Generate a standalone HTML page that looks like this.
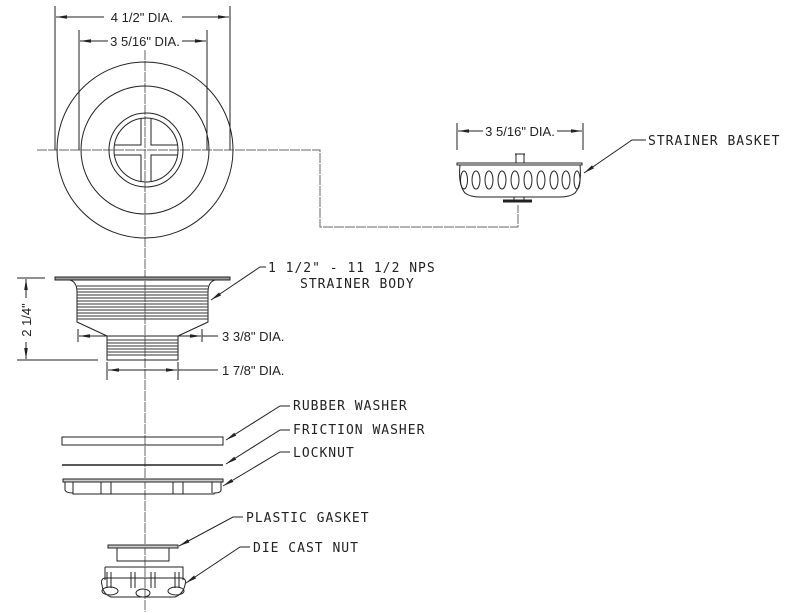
<!DOCTYPE html>
<html><head><style>
html,body{margin:0;padding:0;background:#fff}
svg{display:block}
.t{font-family:"Liberation Sans",sans-serif;font-size:13px;fill:#222}
.c{font-family:"DejaVu Sans Mono","Liberation Mono",monospace;font-size:13px;fill:#222;letter-spacing:1px}
</style></head><body>
<svg width="800" height="615" viewBox="0 0 800 615" xmlns="http://www.w3.org/2000/svg">
<defs>
<marker id="a" markerWidth="12" markerHeight="6" refX="11" refY="3" orient="auto" markerUnits="userSpaceOnUse"><path d="M0,1.2 L11,3 L0,4.8 z" fill="#222"/></marker>
</defs>
<g stroke="#222" stroke-width="1" fill="none">
<path d="M145,50 V612" stroke="#666" stroke-dasharray="10,1"/>
<path d="M37,150 H320 V227 H518 V205" stroke="#666" stroke-dasharray="10,1"/>
<circle cx="145" cy="150" r="88"/>
<circle cx="145" cy="150" r="64"/>
<circle cx="146" cy="150" r="37"/>
<circle cx="146" cy="150" r="32"/>
<path d="M141,119 V145 H115 M151,119 V145 H177 M141,181 V155 H115 M151,181 V155 H177"/>
<path d="M55,6 V150 M230,6 V150 M79,30 V150 M207,30 V150"/>
<path d="M142,17 H56" marker-end="url(#a)"/><path d="M142,17 H229" marker-end="url(#a)"/>
<path d="M142,41 H80" marker-end="url(#a)"/><path d="M142,41 H206" marker-end="url(#a)"/>
<path d="M457,123 V150 M583,123 V150"/>
<path d="M520,131 H458" marker-end="url(#a)"/><path d="M520,131 H582" marker-end="url(#a)"/>
<path d="M515,154 H525 M516,154 V163 M524,154 V163"/>
<path d="M457,163 H582 V165 H457 Z"/>
<path d="M460,165 Q458,185 465,193 Q470,197 480,197 H560 Q570,197 575,193 Q582,185 580,165"/>
<g>
<ellipse cx="464" cy="180" rx="3.5" ry="9"/><ellipse cx="476" cy="180" rx="4" ry="9"/><ellipse cx="489" cy="180" rx="4" ry="9"/><ellipse cx="502" cy="180" rx="4" ry="9"/><ellipse cx="515" cy="180" rx="4" ry="9"/><ellipse cx="528" cy="180" rx="4" ry="9"/><ellipse cx="541" cy="180" rx="4" ry="9"/><ellipse cx="554" cy="180" rx="4" ry="9"/><ellipse cx="566" cy="180" rx="4" ry="9"/><ellipse cx="577" cy="180" rx="3" ry="9"/>
</g>
<path d="M514,197 V202 M524,197 V202"/>
<path d="M503,201 H532" stroke-width="3"/>
<path d="M646,140 H632 L584,173" marker-end="url(#a)"/>
<rect x="55" y="277" width="175" height="3" fill="#999"/>
<path d="M70,280 Q77,282 77,292 V322 L107,336 V360 H178 V336 L208,322 V292 Q208,282 215,280"/>
<g stroke-width="0.9" stroke="#333">
<path d="M77,286H208M77,289H208M77,292H208M77,295H208M77,298H208M77,301H208M77,304H208M77,307H208M77,310H208M77,313H208M77,316H208M77,319H208"/>
<path d="M107,340H178M107,343H178M107,346H178M107,349H178M107,352H178M107,355H178"/>
</g>
<path d="M266,267 H260 L211,300" marker-end="url(#a)"/>
<path d="M17,278 H45 M17,360 H98"/>
<path d="M26,320 V279" marker-end="url(#a)"/><path d="M26,320 V359" marker-end="url(#a)"/>
<path d="M78,329 V342 M202,329 V342"/>
<path d="M142,336 H79" marker-end="url(#a)"/><path d="M142,336 H201" marker-end="url(#a)"/><path d="M202,336 H218"/>
<path d="M107,362 V380 M178,362 V380"/>
<path d="M142,370 H108" marker-end="url(#a)"/><path d="M142,370 H177" marker-end="url(#a)"/><path d="M178,370 H218"/>
<rect x="62" y="437" width="161" height="8"/>
<path d="M62,465 H223" stroke-width="1.5"/>
<path d="M290,406 H280 L226,440" marker-end="url(#a)"/>
<path d="M290,430 H280 L226,464" marker-end="url(#a)"/>
<path d="M290,452 H280 L223,486" marker-end="url(#a)"/>
<rect x="63" y="479" width="160" height="3" fill="#ccc"/>
<path d="M65,482 V490 Q66,493 73,493 V494 H214 V493 Q221,493 221,490 V482"/>
<path d="M73,482 V493 M212,482 V493"/>
<rect x="101" y="482" width="10" height="12"/><rect x="173" y="482" width="10" height="12"/>
<rect x="108" y="545" width="70" height="3" fill="#ccc"/>
<path d="M117,548 V561 H169 V548"/>
<path d="M243,517 H233 L179,546" marker-end="url(#a)"/>
<path d="M105,567 H183 V580 M105,567 V580"/>
<path d="M102,585 Q100,578 106,578 H181 Q187,578 185,585 Q183,594 175,597 H111 Q103,594 102,585 Z"/>
<path d="M107,572 V588 M111,572 V588 M131,572 V588 M135,572 V588 M151,572 V588 M155,572 V588 M175,572 V588 M179,572 V588"/>
<ellipse cx="110" cy="591" rx="8" ry="4"/><ellipse cx="143" cy="593" rx="7" ry="4"/><ellipse cx="176" cy="591" rx="8" ry="4"/>
<path d="M250,547 H240 L186,583" marker-end="url(#a)"/>
</g>
<rect x="104" y="9" width="78" height="16" fill="#fff"/>
<text class="t" x="142" y="22" text-anchor="middle">4 1/2" DIA.</text>
<rect x="108" y="33" width="74" height="16" fill="#fff"/>
<text class="t" x="145" y="46" text-anchor="middle">3 5/16" DIA.</text>
<rect x="483" y="123" width="74" height="16" fill="#fff"/>
<text class="t" x="520" y="136" text-anchor="middle">3 5/16" DIA.</text>
<text class="t" x="222" y="341">3 3/8" DIA.</text>
<text class="t" x="222" y="375">1 7/8" DIA.</text>
<rect x="18" y="298" width="16" height="44" fill="#fff"/>
<text class="t" transform="translate(31,320) rotate(-90)" text-anchor="middle">2 1/4"</text>
<text class="c" x="648" y="145">STRAINER BASKET</text>
<text class="c" x="268" y="272">1 1/2" - 11 1/2  NPS</text>
<text class="c" x="300" y="288">STRAINER BODY</text>
<text class="c" x="293" y="410">RUBBER WASHER</text>
<text class="c" x="293" y="434">FRICTION WASHER</text>
<text class="c" x="293" y="457">LOCKNUT</text>
<text class="c" x="246" y="522">PLASTIC GASKET</text>
<text class="c" x="253" y="552">DIE CAST NUT</text>
</svg>
</body></html>
